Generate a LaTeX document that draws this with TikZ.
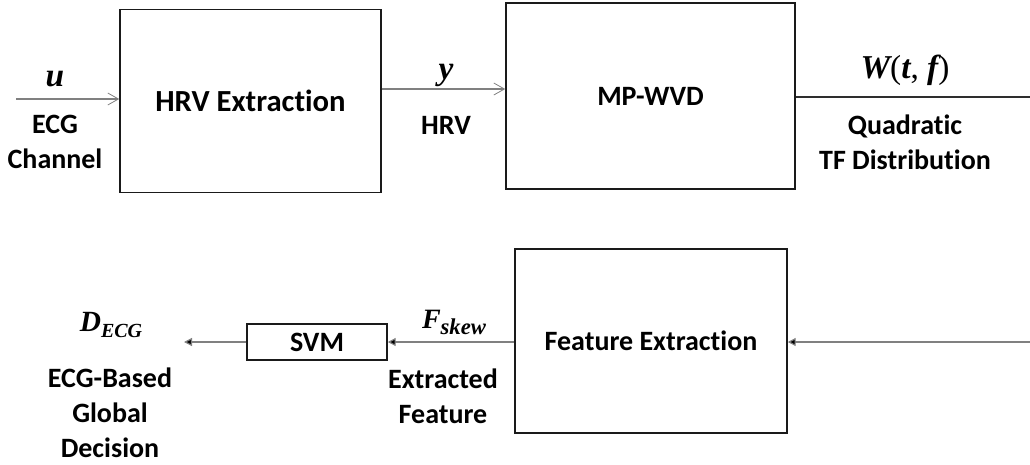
\documentclass[tikz,border=0pt]{standalone}
\usepackage{fontspec}
\setmainfont{Carlito}[Ligatures=NoCommon]
\newfontfamily\mfont{Liberation Serif}
\usetikzlibrary{arrows.meta}

\definecolor{wire}{HTML}{808080}
\definecolor{edge}{HTML}{1A1A1A}

% bold italic variable, upright punctuation
\newcommand{\mvar}[1]{{\mfont\bfseries\itshape #1}}
\newcommand{\mupr}[1]{{\mfont #1}}
\newcommand{\msubs}[3]{\mvar{#1}\raisebox{-0.45ex}{\fontsize{#3}{#3}\selectfont\mvar{#2}}}

\begin{document}
\begin{tikzpicture}[x=0.75pt,y=-0.75pt,
  block/.style={draw=edge,line width=1.1pt,inner sep=0pt,
    font={\fontsize{21}{24}\selectfont\bfseries}},
  lbl/.style={align=center,inner sep=0pt,
    font={\fontsize{21}{26.3}\selectfont\bfseries}},
  sym/.style={inner sep=0pt,font={\fontsize{25}{28}\selectfont}},
  openarr/.style={draw=wire,line width=0.8pt,
    -{Straight Barb[length=8pt,width=9pt,line width=0.6pt]}},
  fillarr/.style={draw=wire,line width=0.9pt,
    -{Triangle[length=6pt,width=6pt,fill=black]}},
  plain/.style={draw=edge!80!wire,line width=0.8pt}]

\useasboundingbox (0,0) rectangle (1030,464);

% processing blocks
\node[block,minimum width=261*0.75pt,minimum height=183*0.75pt,
  font={\fontsize{23}{26}\selectfont\bfseries}] (hrv) at (250.5,101) {HRV Extraction};
\node[block,minimum width=289*0.75pt,minimum height=186*0.75pt] (wvd) at (650.5,96) {MP-WVD};
\node[block,minimum width=272*0.75pt,minimum height=184*0.75pt] (fex) at (651,341) {Feature Extraction};
\node[block,minimum width=140*0.75pt,minimum height=36*0.75pt] (svm) at (317,342) {SVM};

% loose ends of the signal path
\coordinate (uin) at (16,99);
\coordinate (yout) at (381,89);
\coordinate (wend) at (1030,97);
\coordinate (fin) at (1030,342);
\coordinate (dout) at (184,342);

% connectors
\draw[openarr] (uin) -- (uin -| hrv.west);
\draw[openarr] (yout -| hrv.east) -- (yout -| wvd.west);
\draw[plain] (wend -| wvd.east) -- (wend);
\draw[fillarr] (fin) -- (fin -| fex.east);
\draw[fillarr] (fex.west |- svm.east) -- (svm.east);
\draw[fillarr] (svm.west) -- (dout);

% signal symbols
\node[sym] (su) at (55,79) {\mvar{u}};
\node[sym] (sy) at (446,75) {\mvar{y}};
\node[sym] (sw) at (905,70) {\mvar{W}\mupr{(}\mvar{t}\mupr{, }\mvar{f}\mupr{)}};
\node[sym,font={\fontsize{22}{24}\selectfont}] (sd) at (111,325) {\msubs{D}{ECG}{15}};
\node[sym,font={\fontsize{21}{22}\selectfont}] (sf) at (454,322) {\msubs{F}{skew}{17}};

% signal descriptions
\node[lbl] (lu) at (55,142) {ECG\\Channel};
\node[lbl] (ly) at (446,125) {HRV};
\node[lbl] (lw) at (905,142) {Quadratic\\TF Distribution};
\node[lbl] (ld) at (110,412.5) {ECG-Based\\Global\\Decision};
\node[lbl] (lf) at (443,396.5) {Extracted\\Feature};
\end{tikzpicture}
\end{document}
